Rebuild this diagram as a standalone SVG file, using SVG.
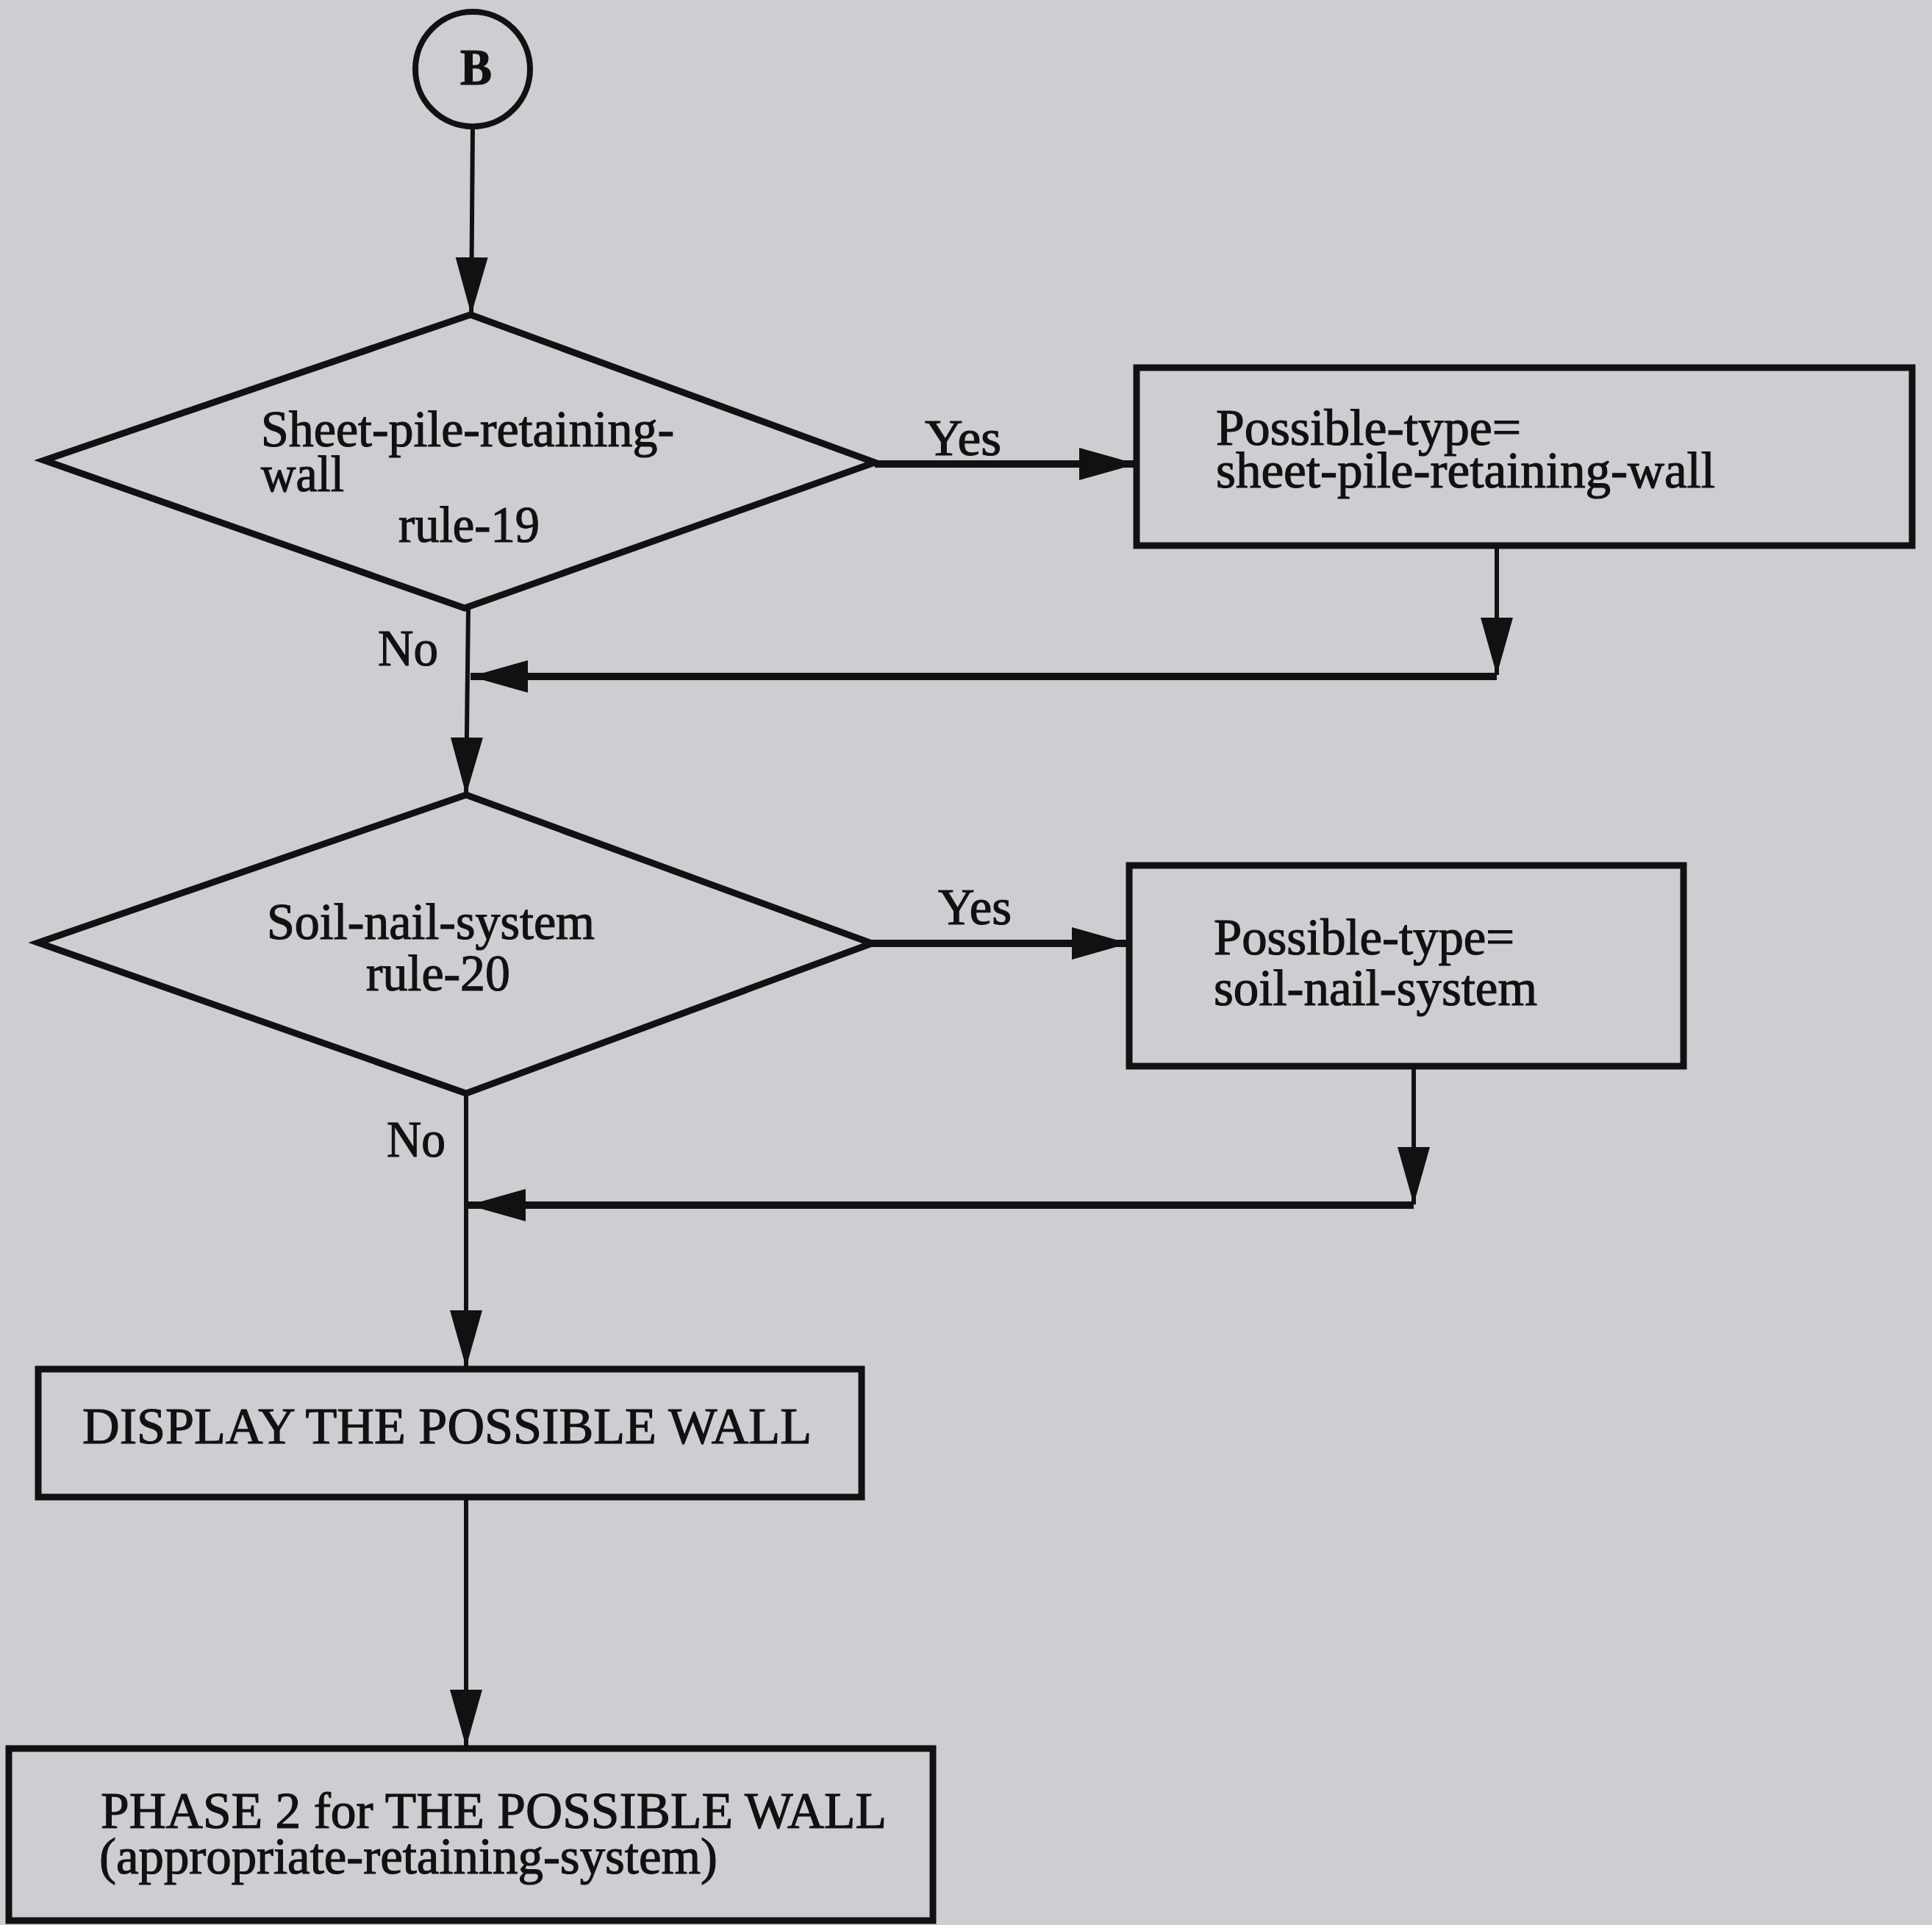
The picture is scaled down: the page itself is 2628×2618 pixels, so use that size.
<svg xmlns="http://www.w3.org/2000/svg" width="2628" height="2618" viewBox="0 0 2628 2618">
<defs>
<style>
.shape{fill:none;stroke:#111;stroke-width:9;stroke-linejoin:miter}
.box{fill:none;stroke:#111;stroke-width:9}
.h{fill:none;stroke:#111;stroke-width:10}
.v{fill:none;stroke:#111;stroke-width:6}
text{font-family:"Liberation Serif","Times New Roman",serif;font-size:69px;fill:#111;stroke:#111;stroke-width:1.2}
.b{font-weight:bold;font-size:70px}
</style>
<marker id="arr" viewBox="0 0 78 44" refX="78" refY="22" markerWidth="78" markerHeight="44" markerUnits="userSpaceOnUse" orient="auto">
<path d="M0,0 L78,22 L0,44 z" fill="#111"/>
</marker>
</defs>
<rect x="0" y="0" width="2628" height="2618" fill="#cdced1"/>

<g id="connectors">
<path class="v" d="M643,172 L641,428" marker-end="url(#arr)"/>
<path class="h" d="M1190,631 L1546,631" marker-end="url(#arr)"/>
<path class="v" d="M2036,742 L2036,918" marker-end="url(#arr)"/>
<path class="h" d="M2036,920 L640,920" marker-end="url(#arr)"/>
<path class="v" d="M637,827 L634,1081" marker-end="url(#arr)"/>
<path class="h" d="M1186,1283 L1536,1283" marker-end="url(#arr)"/>
<path class="v" d="M1923,1450 L1923,1638" marker-end="url(#arr)"/>
<path class="h" d="M1923,1639 L637,1639" marker-end="url(#arr)"/>
<path class="v" d="M634,1487 L634,1860" marker-end="url(#arr)"/>
<path class="v" d="M634,2036 L634,2376" marker-end="url(#arr)"/>
<text x="1258" y="619" textLength="104" lengthAdjust="spacingAndGlyphs">Yes</text>
<text x="514" y="905" textLength="82" lengthAdjust="spacingAndGlyphs">No</text>
<text x="1276" y="1257" textLength="100" lengthAdjust="spacingAndGlyphs">Yes</text>
<text x="526" y="1573" textLength="80" lengthAdjust="spacingAndGlyphs">No</text>
</g>

<g id="start-B">
<circle cx="643" cy="94" r="78" fill="none" stroke="#111" stroke-width="8"/>
<text class="b" x="626" y="115" textLength="43" lengthAdjust="spacingAndGlyphs">B</text>
</g>

<g id="decision-rule-19">
<polygon class="shape" points="640,428 1190,629 632,827 60,626"/>
<text x="355" y="607" textLength="562" lengthAdjust="spacingAndGlyphs">Sheet-pile-retaining-</text>
<text x="355" y="668" textLength="113" lengthAdjust="spacingAndGlyphs">wall</text>
<text x="542" y="737" textLength="192" lengthAdjust="spacingAndGlyphs">rule-19</text>
</g>

<g id="box-sheet-pile">
<rect class="box" x="1546" y="500" width="1055" height="242"/>
<text x="1654" y="605" textLength="415" lengthAdjust="spacingAndGlyphs">Possible-type=</text>
<text x="1654" y="663" textLength="679" lengthAdjust="spacingAndGlyphs">sheet-pile-retaining-wall</text>
</g>

<g id="decision-rule-20">
<polygon class="shape" points="634,1081 1186,1283 634,1487 52,1282"/>
<text x="363" y="1277" textLength="446" lengthAdjust="spacingAndGlyphs">Soil-nail-system</text>
<text x="498" y="1347" textLength="196" lengthAdjust="spacingAndGlyphs">rule-20</text>
</g>

<g id="box-soil-nail">
<rect class="box" x="1536" y="1177" width="754" height="273"/>
<text x="1651" y="1298" textLength="409" lengthAdjust="spacingAndGlyphs">Possible-type=</text>
<text x="1651" y="1367" textLength="440" lengthAdjust="spacingAndGlyphs">soil-nail-system</text>
</g>

<g id="box-display">
<rect class="box" x="52" y="1862" width="1120" height="174"/>
<text x="112" y="1963" textLength="992" lengthAdjust="spacingAndGlyphs">DISPLAY THE POSSIBLE WALL</text>
</g>

<g id="box-phase2">
<rect class="box" x="12" y="2378" width="1257" height="234"/>
<text x="137" y="2486" textLength="1069" lengthAdjust="spacingAndGlyphs">PHASE 2 for THE POSSIBLE WALL</text>
<text x="135" y="2548" textLength="841" lengthAdjust="spacingAndGlyphs">(appropriate-retaining-system)</text>
</g>
</svg>
